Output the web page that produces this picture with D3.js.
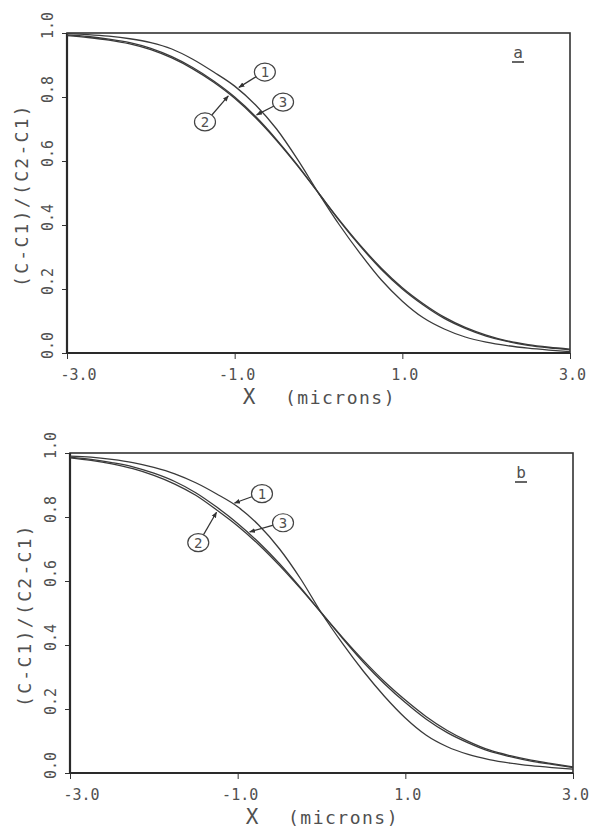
<!DOCTYPE html>
<meta charset="utf-8">
<style type="text/css">
body {
  margin: 0;
  background: #fff;
}

text {
  font-family: "DejaVu Sans Mono", monospace;
  fill: #505050;
}

.axis path,
.axis line {
  fill: none;
  stroke: #333;
}

.tick text {
  font-size: 15px;
}

.frame {
  fill: none;
  stroke: #333;
  stroke-width: 1.6px;
}

.curve {
  fill: none;
  stroke: #3a3a3a;
  stroke-width: 1.3px;
}

.note ellipse {
  fill: #fff;
  stroke: #444;
  stroke-width: 1.2px;
}

.note line {
  stroke: #333;
  stroke-width: 1.2px;
}
</style>
<body>
</body>

<script src="https://cdn.jsdelivr.net/npm/d3@7"></script>
<script>
// positions along the profile, microns
var xs = [-3.0, -2.75, -2.5, -2.25, -2.0, -1.75, -1.5, -1.25, -1.0, -0.75, -0.5, -0.25,
  0.0, 0.25, 0.5, 0.75, 1.0, 1.25, 1.5, 1.75, 2.0, 2.25, 2.5, 2.75, 3.0];

// panel a, curves 1..3
var a1 = [0.998, 0.995, 0.990, 0.982, 0.970, 0.950, 0.918, 0.878, 0.834, 0.775, 0.700, 0.605,
  0.500, 0.400, 0.310, 0.228, 0.162, 0.110, 0.075, 0.050, 0.034, 0.023, 0.015, 0.009, 0.004];
var a2 = [0.992, 0.986, 0.978, 0.966, 0.948, 0.922, 0.888, 0.846, 0.796, 0.735, 0.664, 0.585,
  0.500, 0.415, 0.336, 0.265, 0.204, 0.154, 0.112, 0.080, 0.056, 0.038, 0.026, 0.018, 0.012];
var a3 = [0.994, 0.989, 0.981, 0.970, 0.952, 0.926, 0.892, 0.850, 0.800, 0.739, 0.667, 0.587,
  0.500, 0.413, 0.333, 0.261, 0.200, 0.150, 0.108, 0.077, 0.053, 0.036, 0.024, 0.016, 0.010];

// panel b, curves 1..3
var b1 = [0.990, 0.987, 0.980, 0.970, 0.955, 0.935, 0.907, 0.872, 0.832, 0.775, 0.700, 0.607,
  0.500, 0.405, 0.318, 0.240, 0.172, 0.118, 0.082, 0.058, 0.042, 0.031, 0.023, 0.017, 0.012];
var b2 = [0.985, 0.977, 0.966, 0.951, 0.930, 0.903, 0.868, 0.822, 0.772, 0.714, 0.648, 0.576,
  0.500, 0.424, 0.352, 0.286, 0.228, 0.176, 0.133, 0.099, 0.072, 0.054, 0.040, 0.029, 0.019];
var b3 = [0.987, 0.980, 0.970, 0.957, 0.937, 0.911, 0.876, 0.831, 0.780, 0.721, 0.654, 0.579,
  0.500, 0.421, 0.346, 0.279, 0.220, 0.168, 0.126, 0.094, 0.068, 0.051, 0.037, 0.027, 0.017];

var xTicks = [-3.0, -1.0, 1.0, 3.0];
var xTickLabels = ["-3.0", "-1.0", "1.0", "3.0"];
var yTicks = [0.0, 0.2, 0.4, 0.6, 0.8, 1.0];
var yTickLabels = ["0.0", "0.2", "0.4", "0.6", "0.8", "1.0"];

var curveLabels = ["1", "2", "3"];
// callouts: arrow tip x on the curve, circle centre (data units)
var notesA = [[-0.97, -0.64, 0.878], [-1.06, -1.354, 0.722], [-0.76, -0.423, 0.784]];
var notesB = [[-1.06, -0.71, 0.873], [-1.24, -1.47, 0.720], [-0.88, -0.459, 0.782]];

var width = 503;
var height = 320;

var svg = d3.select("body")
  .append("svg")
    .attr("width", 593)
    .attr("height", 828);

svg.append("defs").append("marker")
    .attr("id", "head")
    .attr("viewBox", "0 0 10 10")
    .attr("refX", 9)
    .attr("refY", 5)
    .attr("markerWidth", 6)
    .attr("markerHeight", 6)
    .attr("markerUnits", "userSpaceOnUse")
    .attr("orient", "auto")
  .append("path")
    .attr("d", "M0,1L10,5L0,9Z")
    .style("fill", "#333");

var xscale = d3.scaleLinear()
  .domain([-3, 3])
  .range([0, width]);

var yscale = d3.scaleLinear()
  .domain([0, 1])
  .range([height, 0]);

var line = d3.line()
  .x(function(d, i) { return xscale(xs[i]); })
  .y(function(d) { return yscale(d); })
  .curve(d3.curveMonotoneX);

function valueAt(series, x) {
  var i = Math.min(d3.bisectLeft(xs, x), xs.length - 1);
  if (i == 0) return series[0];
  var t = (x - xs[i - 1]) / (xs[i] - xs[i - 1]);
  return series[i - 1] + t * (series[i] - series[i - 1]);
}

function drawPanel(left, top, series, notes, letter) {
  var g = svg.append("g")
    .attr("transform", "translate(" + left + "," + top + ")");

  var xAxis = d3.axisBottom(xscale)
    .tickValues(xTicks)
    .tickSize(6)
    .tickSizeOuter(0)
    .tickFormat(function(d, i) { return xTickLabels[i]; });

  var yAxis = d3.axisLeft(yscale)
    .tickValues(yTicks)
    .tickSize(5)
    .tickSizeOuter(0)
    .tickFormat(function(d, i) { return yTickLabels[i]; });

  var gx = g.append("g")
    .attr("class", "x axis")
    .attr("transform", "translate(0," + height + ")")
    .call(xAxis);
  gx.select(".domain").remove();
  gx.selectAll(".tick text")
    .attr("y", 0)
    .attr("dy", 27)
    .attr("dx", function(d, i) { return i == 0 ? 11 : 2; });

  var gy = g.append("g")
    .attr("class", "y axis")
    .call(yAxis);
  gy.select(".domain").remove();
  gy.selectAll(".tick text")
    .attr("x", 0)
    .attr("dy", 0)
    .attr("text-anchor", "middle")
    .attr("transform", "translate(-14,-8) rotate(-90)");

  g.append("rect")
    .attr("class", "frame")
    .attr("width", width)
    .attr("height", height);

  g.append("path")
    .attr("d", "M0,0V" + height + "H" + width)
    .style("fill", "none")
    .style("stroke", "#2a2a2a")
    .style("stroke-width", "2.2px");

  g.selectAll("path.curve")
    .data(series)
    .enter().append("path")
    .attr("class", "curve")
    .attr("d", line);

  var note = g.selectAll("g.note")
    .data(notes)
    .enter().append("g")
    .attr("class", "note");

  note.append("line")
    .attr("marker-end", "url(#head)")
    .each(function(d, i) {
      var cx = xscale(d[1]), cy = yscale(d[2]);
      var tx = xscale(d[0]), ty = yscale(valueAt(series[i], d[0]));
      var dx = tx - cx, dy = ty - cy;
      var len = Math.sqrt(dx * dx + dy * dy);
      d3.select(this)
        .attr("x1", cx + dx / len * 10)
        .attr("y1", cy + dy / len * 9)
        .attr("x2", tx - dx / len * 2)
        .attr("y2", ty - dy / len * 2);
    });

  note.append("ellipse")
    .attr("cx", function(d) { return xscale(d[1]); })
    .attr("cy", function(d) { return yscale(d[2]); })
    .attr("rx", 10.5)
    .attr("ry", 9);

  note.append("text")
    .attr("x", function(d) { return xscale(d[1]); })
    .attr("y", function(d) { return yscale(d[2]) + 5; })
    .attr("text-anchor", "middle")
    .style("font-size", "14px")
    .text(function(d, i) { return curveLabels[i]; });

  g.append("text")
    .attr("x", 451)
    .attr("y", 25)
    .attr("text-anchor", "middle")
    .style("font-size", "16px")
    .text(letter);

  g.append("line")
    .attr("x1", 445)
    .attr("x2", 457)
    .attr("y1", 29)
    .attr("y2", 29)
    .style("stroke", "#333")
    .style("stroke-width", "1.5px");

  g.append("text")
    .attr("transform", "translate(-39," + (height / 2 + 2) + ") rotate(-90)")
    .attr("text-anchor", "middle")
    .style("font-size", "18px")
    .style("letter-spacing", "2.3px")
    .text("(C-C1)/(C2-C1)");

  g.append("text")
    .attr("x", 182)
    .attr("y", height + 51)
    .attr("text-anchor", "middle")
    .style("font-size", "21px")
    .text("X");

  g.append("text")
    .attr("x", 218)
    .attr("y", height + 51)
    .style("font-size", "18px")
    .style("letter-spacing", "1.5px")
    .text("(microns)");
}

drawPanel(67, 33, [a1, a2, a3], notesA, "a");
drawPanel(70, 453, [b1, b2, b3], notesB, "b");
</script>
